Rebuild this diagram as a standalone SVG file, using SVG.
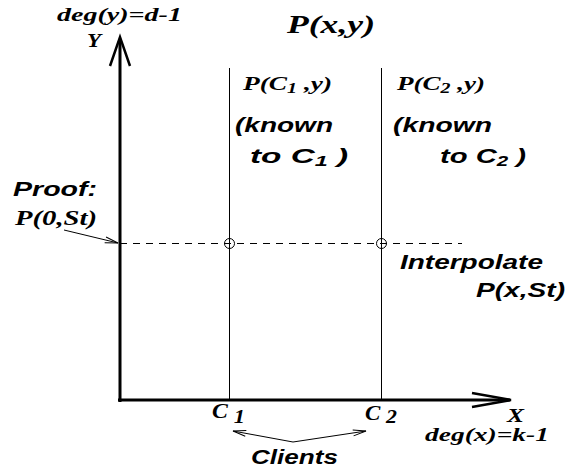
<svg xmlns="http://www.w3.org/2000/svg" width="566" height="473" viewBox="0 0 566 473">
<defs>
<marker id="open" markerUnits="userSpaceOnUse" markerWidth="20" markerHeight="10" viewBox="-14 -5 16 10" refX="0" refY="0" orient="auto">
<path d="M-13,-3 L0,0 L-13,3" fill="none" stroke="#000" stroke-width="1"/>
</marker>
</defs>
<style>
.serif{font-family:"Liberation Serif","Times New Roman",serif;font-weight:bold;font-style:italic;fill:#000}
.sans{font-family:"Liberation Sans",Arial,sans-serif;font-weight:bold;font-style:italic;fill:#000}
.thin{stroke:#000;stroke-width:1;fill:none}
.axis{stroke:#000;stroke-width:3;fill:none}
.head{stroke:#000;stroke-width:2.5;fill:none}
</style>
<rect width="566" height="473" fill="#fff"/>
<g id="connectors">
<line class="axis" x1="120" y1="402" x2="120" y2="39"/>
<polyline class="head" points="110,66 120,37 130,66"/>
<line class="axis" x1="118" y1="400" x2="510" y2="400"/>
<polyline class="head" points="472,393 511,400 472,407"/>
<line class="thin" x1="229.5" y1="68" x2="229.5" y2="400"/>
<line class="thin" x1="381.5" y1="68" x2="381.5" y2="400"/>
<line class="thin" x1="120" y1="243.5" x2="462" y2="243.5" stroke-dasharray="7,6"/>
<line class="thin" x1="64" y1="230" x2="118" y2="243" marker-end="url(#open)"/>
<line class="thin" x1="293" y1="442" x2="233" y2="431" marker-end="url(#open)"/>
<line class="thin" x1="293" y1="442" x2="366" y2="431" marker-end="url(#open)"/>
</g>
<g id="points">
<circle class="thin" cx="229.5" cy="243.5" r="5"/>
<circle class="thin" cx="381.5" cy="243.5" r="5"/>
</g>
<g id="y-axis-labels">
<text class="serif" x="57" y="21" font-size="19" textLength="125" lengthAdjust="spacingAndGlyphs">deg(y)=d-1</text>
<text class="serif" x="87" y="47" font-size="18" textLength="14" lengthAdjust="spacingAndGlyphs">Y</text>
</g>
<g id="title">
<text class="serif" x="287" y="33" font-size="26" textLength="88" lengthAdjust="spacingAndGlyphs">P(x,y)</text>
</g>
<g id="client1">
<text class="serif" x="243" y="90" font-size="19" textLength="89" lengthAdjust="spacingAndGlyphs">P(C<tspan font-size="14" dy="3">1</tspan><tspan dy="-3"> ,y)</tspan></text>
<text class="sans" x="235" y="132" font-size="20" textLength="98" lengthAdjust="spacingAndGlyphs">(known</text>
<text class="sans" x="250" y="163" font-size="20" textLength="98" lengthAdjust="spacingAndGlyphs">to C<tspan font-size="14" dy="3">1</tspan><tspan dy="-3"> )</tspan></text>
</g>
<g id="client2">
<text class="serif" x="397" y="90" font-size="19" textLength="88" lengthAdjust="spacingAndGlyphs">P(C<tspan font-size="14" dy="3">2</tspan><tspan dy="-3"> ,y)</tspan></text>
<text class="sans" x="393" y="132" font-size="20" textLength="99" lengthAdjust="spacingAndGlyphs">(known</text>
<text class="sans" x="440" y="163" font-size="20" textLength="86" lengthAdjust="spacingAndGlyphs">to C<tspan font-size="14" dy="3">2</tspan><tspan dy="-3"> )</tspan></text>
</g>
<g id="proof">
<text class="sans" x="13" y="196" font-size="20" textLength="84" lengthAdjust="spacingAndGlyphs">Proof:</text>
<text class="serif" x="15" y="225" font-size="20" textLength="82" lengthAdjust="spacingAndGlyphs">P(0,St)</text>
</g>
<g id="interpolate">
<text class="sans" x="400" y="269" font-size="21" textLength="143" lengthAdjust="spacingAndGlyphs">Interpolate</text>
<text class="sans" x="476" y="297" font-size="21" textLength="89" lengthAdjust="spacingAndGlyphs">P(x,St)</text>
</g>
<g id="x-axis-labels">
<text class="serif" x="212" y="418" font-size="20" textLength="33" lengthAdjust="spacingAndGlyphs">C <tspan font-size="19" dy="5">1</tspan></text>
<text class="serif" x="365" y="420" font-size="20" textLength="32" lengthAdjust="spacingAndGlyphs">C <tspan font-size="19" dy="3">2</tspan></text>
<text class="serif" x="507" y="422" font-size="19" textLength="17" lengthAdjust="spacingAndGlyphs">X</text>
<text class="serif" x="425" y="441" font-size="19" textLength="124" lengthAdjust="spacingAndGlyphs">deg(x)=k-1</text>
</g>
<g id="clients">
<text class="sans" x="251" y="464" font-size="21" textLength="87" lengthAdjust="spacingAndGlyphs">Clients</text>
</g>
</svg>
